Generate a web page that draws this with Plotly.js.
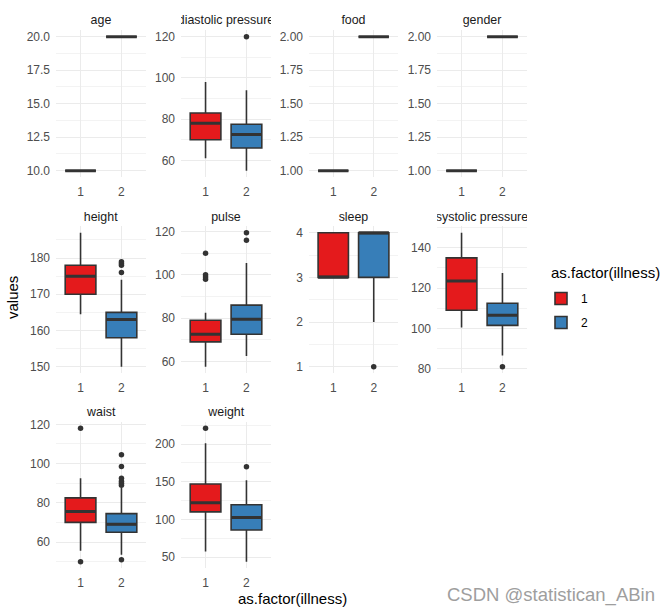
<!DOCTYPE html>
<html>
<head>
<meta charset="utf-8">
<script src="https://cdn.plot.ly/plotly-3.0.1.min.js"></script>
<style>html,body{margin:0;padding:0;background:#fff;}#chart{width:672px;height:613px;}</style>
</head>
<body>
<div id="chart"></div>
<script>
// ---- data ----
const variables = ['age','diastolic pressure','food','gender','height','pulse','sleep','systolic pressure','waist','weight'];
const groups = ['1','2'];

// group 1 (illness = 1)
const lower1  = [10, 61, 1, 1, 164.5, 57.5, 3, 100.5, 55.5, 57.5];
const q1_1    = [10, 70, 1, 1, 170,   69,   3, 109,   70,   110];
const median1 = [10, 78, 1, 1, 175,   72.5, 3, 123.5, 75.5, 122];
const q3_1    = [10, 83, 1, 1, 178,   79,   4, 135,   82.5, 147];
const upper1  = [10, 98, 1, 1, 187,   82.5, 4, 147.5, 92.5, 201];
const outliers1 = [[], [], [], [], [], [98, 99, 100, 110], [], [], [50, 118], [221]];

// group 2 (illness = 2)
const lower2  = [20, 55,   2, 2, 150, 62.5, 2, 86.5,  53.5, 44];
const q1_2    = [20, 66,   2, 2, 158, 72.5, 3, 101.5, 65,   86];
const median2 = [20, 72.5, 2, 2, 163, 79.5, 4, 106.5, 69,   102.5];
const q3_2    = [20, 77.5, 2, 2, 165, 86,   4, 112.5, 74.5, 119.5];
const upper2  = [20, 94,   2, 2, 174, 105.5,4, 127.5, 87.5, 152];
const outliers2 = [[], [120], [], [], [176, 178, 178.5, 179], [116, 119.5], [1], [81], [51, 89, 90, 91, 92.5, 98.5, 104.5], [170]];

// axis tick settings per panel
const tickStep   = [2.5, 20, 0.25, 0.25, 10, 20, 1, 20, 20, 50];
const tickFormat = ['.1f', '', '.2f', '.2f', '', '', '', '', '', ''];

// ---- layout geometry (pixels) ----
const W = 672, H = 613;
const colLeft  = [56, 181, 309, 437];
const colRight = [146, 271, 398, 527];
const rowTop    = [30, 226, 421.6];
const rowBottom = [177.4, 373.4, 568.3];
const fills = ['#E41A1C', '#377EB8'];
const dark = '#333333';
const gridCol = '#EBEBEB';
const fontFam = '"Liberation Sans", Arial, Helvetica, sans-serif';
const boxW = 0.75;

const stats = [
  {lo: lower1, q1: q1_1, md: median1, q3: q3_1, hi: upper1, out: outliers1},
  {lo: lower2, q1: q1_2, md: median2, q3: q3_2, hi: upper2, out: outliers2}
];

const traces = [];
const layout = {
  width: W, height: H,
  margin: {l: 0, r: 0, t: 0, b: 0},
  paper_bgcolor: '#fff', plot_bgcolor: '#fff',
  font: {family: fontFam, size: 12, color: '#4D4D4D'},
  showlegend: true,
  legend: {
    x: 541 / W, y: 1 - 284 / H, xanchor: 'left', yanchor: 'top',
    font: {size: 12, color: '#000'},
    bgcolor: 'rgba(0,0,0,0)', traceorder: 'grouped', tracegroupgap: 5
  },
  annotations: [],
  hovermode: false
};

variables.forEach((v, i) => {
  const r = Math.floor(i / 4), c = i % 4;
  const sfx = i === 0 ? '' : String(i + 1);
  const xa = 'x' + sfx, ya = 'y' + sfx;

  // data range with 5% expansion
  let mn = Infinity, mx = -Infinity;
  stats.forEach(s => {
    mn = Math.min(mn, s.lo[i], ...s.out[i]);
    mx = Math.max(mx, s.hi[i], ...s.out[i]);
  });
  const pad = (mx - mn) * 0.05;

  layout['xaxis' + sfx] = {
    domain: [colLeft[c] / W, colRight[c] / W],
    anchor: ya, range: [0.4, 2.6],
    tickvals: [1, 2], ticktext: groups,
    showgrid: true, gridcolor: gridCol, gridwidth: 1,
    zeroline: false, showline: false, ticks: '',
    ticklabelstandoff: 6,
    tickfont: {size: 12, color: '#4D4D4D'}, fixedrange: true
  };
  layout['yaxis' + sfx] = {
    domain: [1 - rowBottom[r] / H, 1 - rowTop[r] / H],
    anchor: xa, range: [mn - pad, mx + pad],
    tick0: 0, dtick: tickStep[i], tickformat: tickFormat[i],
    showgrid: true, gridcolor: gridCol, gridwidth: 1,
    minor: {dtick: tickStep[i] / 2, tick0: 0, showgrid: true, gridcolor: gridCol, gridwidth: 0.6, ticks: ''},
    zeroline: false, showline: false, ticks: '',
    ticklabelstandoff: 5,
    tickfont: {size: 12, color: '#4D4D4D'}, fixedrange: true
  };

  // strip title
  layout.annotations.push({
    text: v, xref: 'paper', yref: 'paper',
    x: (colLeft[c] + colRight[c]) / 2 / W, y: 1 - (rowTop[r] - 9.5) / H,
    xanchor: 'center', yanchor: 'middle',
    width: colRight[c] - colLeft[c], align: 'center',
    showarrow: false, font: {size: 12.4, color: '#1A1A1A'}
  });

  stats.forEach((s, g) => {
    const xpos = g + 1;
    traces.push({
      type: 'box', orientation: 'v', xaxis: xa, yaxis: ya,
      x: [xpos], q1: [s.q1[i]], median: [s.md[i]], q3: [s.q3[i]],
      lowerfence: [s.lo[i]], upperfence: [s.hi[i]],
      width: boxW, whiskerwidth: 0, boxpoints: false,
      fillcolor: fills[g], line: {color: dark, width: 1.6},
      name: groups[g], legendgroup: groups[g], showlegend: i === 0,
      hoverinfo: 'skip'
    });
    // thicker median line
    traces.push({
      type: 'scatter', mode: 'lines', xaxis: xa, yaxis: ya,
      x: [xpos - boxW / 2, xpos + boxW / 2], y: [s.md[i], s.md[i]],
      line: {color: dark, width: 3}, showlegend: false, hoverinfo: 'skip'
    });
    if (s.out[i].length) {
      traces.push({
        type: 'scatter', mode: 'markers', xaxis: xa, yaxis: ya,
        x: s.out[i].map(() => xpos), y: s.out[i],
        marker: {color: dark, size: 5.5}, showlegend: false, hoverinfo: 'skip'
      });
    }
  });
});

// legend title, axis titles & caption
layout.annotations.push({
  text: 'as.factor(illness)', xref: 'paper', yref: 'paper', x: 549 / W, y: 1 - 273 / H,
  xanchor: 'left', yanchor: 'middle', showarrow: false,
  font: {size: 15, color: '#000'}
});
layout.annotations.push({
  text: 'values', xref: 'paper', yref: 'paper', x: 12 / W, y: 1 - 298 / H,
  xanchor: 'center', yanchor: 'middle', textangle: -90, showarrow: false,
  font: {size: 15, color: '#000'}
});
layout.annotations.push({
  text: 'as.factor(illness)', xref: 'paper', yref: 'paper', x: 292 / W, y: 1 - 598 / H,
  xanchor: 'center', yanchor: 'middle', showarrow: false,
  font: {size: 15, color: '#000'}
});
layout.annotations.push({
  text: 'CSDN @statistican_ABin', xref: 'paper', yref: 'paper', x: 551 / W, y: 1 - 595 / H,
  xanchor: 'center', yanchor: 'middle', showarrow: false,
  font: {size: 18.5, color: '#9E9E9E'}
});

Plotly.newPlot('chart', traces, layout, {staticPlot: true, displayModeBar: false});
</script>
</body>
</html>
